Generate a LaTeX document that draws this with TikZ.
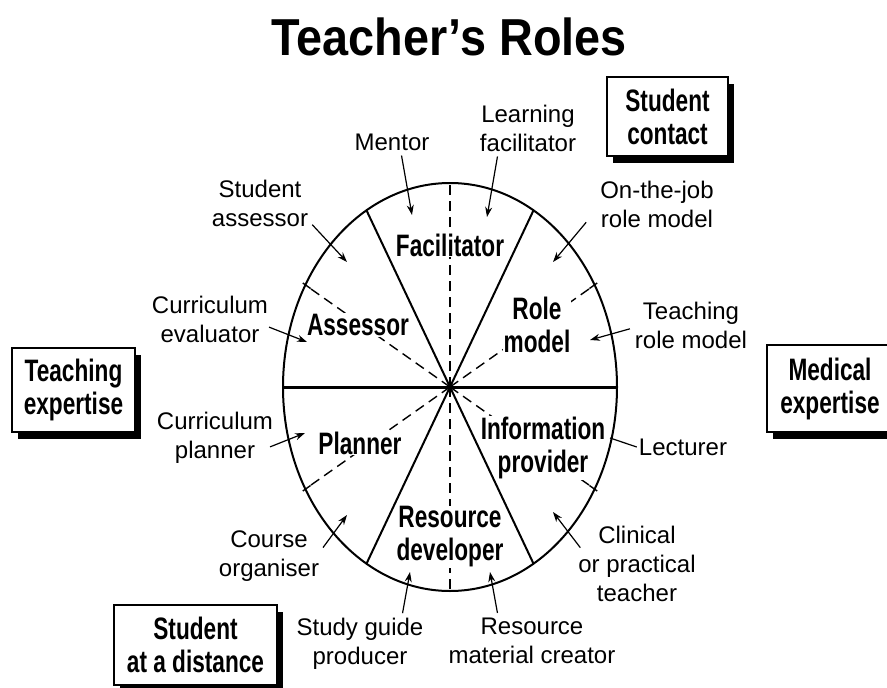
\documentclass[tikz,border=0pt]{standalone}
\usepackage{fontspec}
\setmainfont{Liberation Sans}
\newfontfamily\rolefont[FakeStretch=0.73]{Liberation Sans}
\newfontfamily\titlefont[FakeStretch=0.9]{Liberation Sans}
\usepackage{tikz}
\usetikzlibrary{positioning}
\usetikzlibrary{arrows.meta, calc, shadows}

\tikzset{
    tag/.style={font=\fontsize{24}{29}\selectfont, align=center, inner sep=2pt},
    role/.style={font=\rolefont\bfseries\fontsize{31}{33}\selectfont, align=center,
        fill=white, inner sep=1pt},
    area/.style={draw, line width=1.6pt, fill=white, align=center, inner sep=2pt,
        font=\rolefont\bfseries\fontsize{31}{33}\selectfont,
        drop shadow={shadow xshift=6pt, shadow yshift=-7pt, opacity=1, fill=black}},
    tagarrow/.style={-{Stealth[length=10pt,width=7pt]}, line width=1.2pt, shorten <=3pt},
    spoke/.style={line width=2pt},
    divider/.style={line width=1.4pt, dash pattern=on 10pt off 6pt}
}

\begin{document}
\begin{tikzpicture}[x=1pt,y=-1pt]
        \useasboundingbox (0,0) rectangle (887,688);
        \clip (0,0) rectangle (887,688);
        \node[font=\titlefont\bfseries\fontsize{52}{56}\selectfont] (title) at (449,37) {Teacher’s Roles};

        \coordinate (c) at (450,387);
        \foreach \a in {30,90,150,210,270,330}
            \draw[divider] (c) -- ++(\a:167pt and 204pt);

        \node[role] (facilitator) at (450,245) {Facilitator};
        \node[role] (assessor) at (358,325) {Assessor};
        \node[role] (rolemodel) at (537,325) {Role\\model};
        \node[role] (planner) at (360,443) {Planner};
        \node[role] (infoprov) at (543,448) {Information\\provider};
        \node[role] (resdev) at (450,537) {Resource\\developer};

        \begin{scope}
            \draw[line width=2pt] (c) ellipse [x radius=167pt, y radius=204pt];
            \draw[line width=3pt] (c) ++(180:167pt and 204pt) -- ++(334pt,0pt);
            \foreach \a in {60,120,240,300}
                \draw[spoke] (c) -- ++(\a:167pt and 204pt);
            \foreach \a in {30,150,210,330}
                \draw[line width=1.4pt] (c) ++(\a:161pt and 197pt) -- ++(\a:9pt and 11pt);
        \end{scope}

        \node[tag] (mentor) at (392,142) {Mentor};
        \node[tag] (learning) at (528,128) {Learning\\facilitator};
        \node[tag] (sassessor) at (260,203) {Student\\assessor};
        \node[tag] (cevaluator) at (210,319) {Curriculum\\evaluator};
        \node[tag] (cplanner) at (215,438) {Curriculum\\planner};
        \node[tag] (corganiser) at (269,556) {Course\\organiser};
        \node[tag] (sgproducer) at (360,644) {Study guide\\producer};
        \node[tag] (rmcreator) at (532,641) {Resource\\material creator};
        \node[tag] (clinical) at (637,564) {Clinical\\or practical\\teacher};
        \node[tag] (lecturer) at (683,447) {Lecturer};
        \node[tag] (trmodel) at (691,325) {Teaching\\role model};
        \node[tag] (ojrmodel) at (657,204) {On-the-job\\role model};

        \coordinate (mentor tip) at (412,215);
        \coordinate (learning tip) at (487,217);
        \coordinate (sassessor tip) at (347,262);
        \coordinate (cevaluator tip) at (307,342);
        \coordinate (cplanner tip) at (305,433);
        \coordinate (corganiser tip) at (347,515);
        \coordinate (sgproducer tip) at (410,572);
        \coordinate (rmcreator tip) at (490,572);
        \coordinate (clinical tip) at (553,512);
        \coordinate (lecturer end) at (610,438);
        \coordinate (trmodel tip) at (590,340);
        \coordinate (ojrmodel tip) at (553,262);

        \draw[tagarrow] ([xshift=9pt]mentor.south) -- (mentor tip);
        \draw[tagarrow] ([xshift=-30pt]learning.south) -- (learning tip);
        \draw[tagarrow] ([yshift=6pt]sassessor.south east) -- (sassessor tip);
        \draw[tagarrow] ([xshift=-4pt,yshift=-7pt]cevaluator.east) -- (cevaluator tip);
        \draw[tagarrow] ([xshift=-8pt,yshift=-10pt]cplanner.east) -- (cplanner tip);
        \draw[tagarrow] ([yshift=6pt]corganiser.east) -- (corganiser tip);
        \draw[tagarrow] ([xshift=42pt]sgproducer.north) -- (sgproducer tip);
        \draw[tagarrow] ([xshift=-34pt]rmcreator.north) -- (rmcreator tip);
        \draw[tagarrow] ([xshift=6pt,yshift=14pt]clinical.west) -- (clinical tip);
        \draw[line width=1.2pt] (lecturer.west) -- (lecturer end);
        \draw[tagarrow] ([yshift=-3pt]trmodel.west) -- (trmodel tip);
        \draw[tagarrow] ([xshift=-10pt,yshift=-16pt]ojrmodel.west) -- (ojrmodel tip);

        \node[area, minimum width=121pt, minimum height=79pt] (scontact) at (667.5,116.5) {Student\\contact};
        \node[area, minimum width=126pt, minimum height=87pt] (mexpertise) at (830,388.5) {Medical\\expertise};
        \node[area, minimum width=123pt, minimum height=84pt] (texpertise) at (73.5,390) {Teaching\\expertise};
        \node[area, minimum width=163pt, minimum height=80pt] (sdistance) at (195.5,645) {Student\\at a distance};
    \end{tikzpicture}
\end{document}
